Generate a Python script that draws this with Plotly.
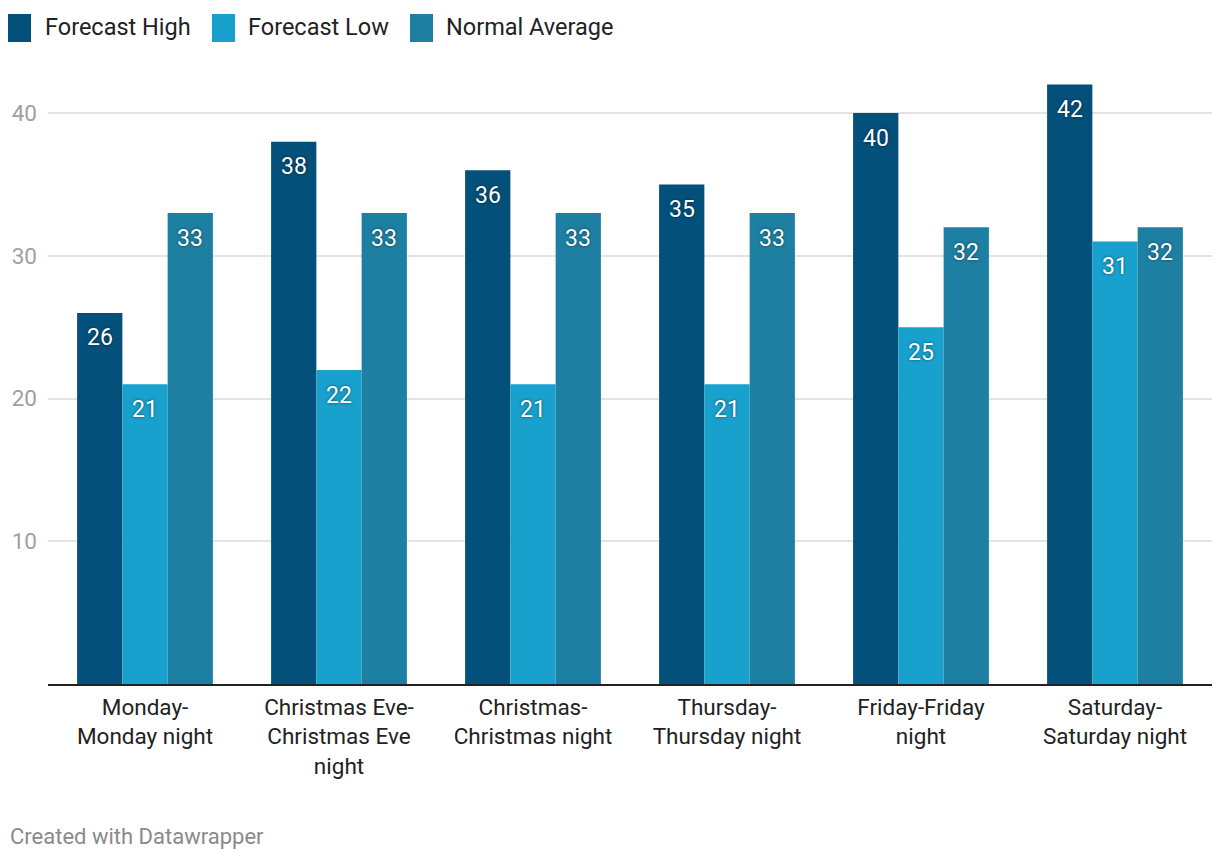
import plotly.graph_objects as go

categories = ["Monday-<br>Monday night", "Christmas Eve-<br>Christmas Eve<br>night",
              "Christmas-<br>Christmas night", "Thursday-<br>Thursday night",
              "Friday-Friday<br>night", "Saturday-<br>Saturday night"]
forecast_high = [26, 38, 36, 35, 40, 42]
forecast_low = [21, 22, 21, 21, 25, 31]
normal_avg = [33, 33, 33, 33, 32, 32]
series_names = ["Forecast High", "Forecast Low", "Normal Average"]
colors = ["#03507a", "#18a1cd", "#1d80a2"]
y_ticks = [10, 20, 30, 40]

W, H = 1220, 862
ML, MR, MT, MB = 48, 8, 56, 178
PW, PH = W - ML - MR, H - MT - MB
BARGAP = 0.30
bar_px = PW / len(categories) * (1 - BARGAP) / 3

fig = go.Figure()
annotations = []
all_series = [forecast_high, forecast_low, normal_avg]
for i, (name, vals, col) in enumerate(zip(series_names, all_series, colors)):
    fig.add_trace(go.Bar(
        x=categories, y=vals, name=name, marker=dict(color=col, line=dict(width=0)),
        showlegend=False, hoverinfo="x+y+name",
    ))
    for cat, v in zip(categories, vals):
        annotations.append(dict(
            xref="x", yref="y", x=cat, y=v, xshift=(i - 1) * bar_px, yshift=-25,
            xanchor="center", yanchor="middle", showarrow=False, text=str(v),
            font=dict(color="white", size=23, family="Roboto",
                      shadow="0px 0px 3px rgba(0,0,0,0.55)"),
        ))

def px_x(px):
    return (px - ML) / PW

def px_y(py):
    return (H - MB - py) / PH

shapes = []
legend_pos = [(8, 43), (212, 246), (410, 444)]
for (sx, tx), name, col in zip(legend_pos, series_names, colors):
    shapes.append(dict(type="rect", xref="paper", yref="paper",
                       x0=px_x(sx), x1=px_x(sx + 23), y0=px_y(42), y1=px_y(14),
                       fillcolor=col, line=dict(width=0)))
    annotations.append(dict(xref="paper", yref="paper", x=px_x(tx), y=px_y(27),
                            xanchor="left", yanchor="middle", showarrow=False,
                            text=name, font=dict(size=23.5, color="#222", family="Roboto")))
annotations.append(dict(xref="paper", yref="paper", x=px_x(8), y=px_y(836),
                        xanchor="left", yanchor="middle", showarrow=False,
                        text="Created with Datawrapper",
                        font=dict(size=22, color="#8a8a8a", family="Roboto")))

fig.update_layout(
    width=W, height=H, margin=dict(l=ML, r=MR, t=MT, b=MB),
    paper_bgcolor="white", plot_bgcolor="white",
    barmode="group", bargap=BARGAP, bargroupgap=0,
    font=dict(family="Roboto", size=20, color="#333"),
    shapes=shapes, annotations=annotations,
    xaxis=dict(showgrid=False, showline=True, linecolor="#222", linewidth=2,
               ticks="", tickfont=dict(size=22.5, color="#222"), ticklabelstandoff=2),
    yaxis=dict(range=[0, 44], tickvals=y_ticks, showgrid=True, gridcolor="#e3e3e3",
               gridwidth=1.5, zeroline=False, showline=False, ticks="",
               tickfont=dict(size=22.5, color="#a0a0a0"), ticklabelstandoff=10),
)

fig.write_html("out.html", config={"displayModeBar": False},
               post_script="document.body.style.margin='0';document.body.style.padding='0';")
